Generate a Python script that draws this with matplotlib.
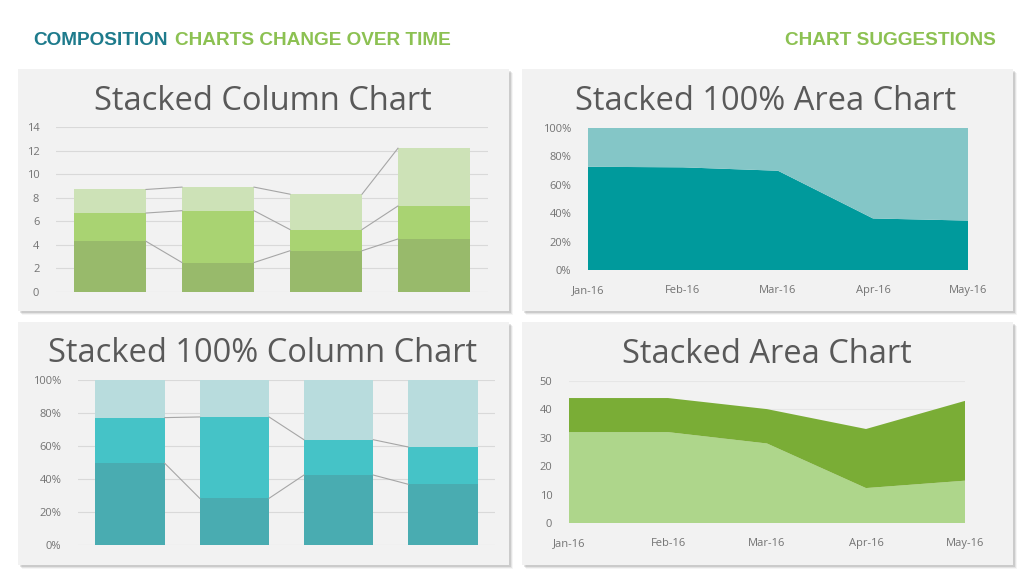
import matplotlib.pyplot as plt
from matplotlib.patches import Rectangle
import numpy as np

# --- data ---
col_cats = ['A', 'B', 'C', 'D']
col_s1 = [4.3, 2.5, 3.5, 4.5]
col_s2 = [2.4, 4.4, 1.8, 2.8]
col_s3 = [2.0, 2.0, 3.0, 4.9]

pct_s1 = [49.5, 28.3, 42.4, 36.8]
pct_s2 = [27.7, 49.3, 21.4, 22.6]
pct_s3 = [22.8, 22.4, 36.2, 40.6]

months = ['Jan-16', 'Feb-16', 'Mar-16', 'Apr-16', 'May-16']
area100_dark = [72.7, 72.3, 69.9, 36.3, 34.8]
area100_light = [27.3, 27.7, 30.1, 63.7, 65.2]

area_light = [32, 32, 28, 12.3, 14.9]
area_dark = [12, 12, 12.1, 20.8, 28.1]

W, H = 1024, 576
fig = plt.figure(figsize=(W / 100, H / 100), dpi=100)
fig.patch.set_facecolor('white')

TXT = '#595959'
TICK = '#737373'
GRID = '#d9d9d9'
FONT = 'Open Sans'


def px_axes(l, t, r, b):
    return fig.add_axes([l / W, 1 - b / H, (r - l) / W, (b - t) / H])


def panel(l, t, r, b):
    # soft shadow
    for i, a in enumerate([0.10, 0.07, 0.04]):
        d = 2 + i
        fig.patches.append(Rectangle(((l + d) / W, 1 - (b + d) / H), (r - l) / W, (b - t) / H,
                                     transform=fig.transFigure, facecolor='black', alpha=a,
                                     edgecolor='none', zorder=-3))
    fig.patches.append(Rectangle((l / W, 1 - b / H), (r - l) / W, (b - t) / H,
                                 transform=fig.transFigure, facecolor='#f2f2f2',
                                 edgecolor='none', zorder=-2))


def title(x, y, s):
    fig.text(x / W, 1 - y / H, s, ha='center', va='baseline', fontsize=23.5,
             color=TXT, family=FONT)


def style(ax):
    ax.set_facecolor('none')
    for sp in ax.spines.values():
        sp.set_visible(False)
    ax.tick_params(axis='both', length=0, labelsize=8, labelcolor=TICK, pad=12)
    for lab in ax.get_xticklabels() + ax.get_yticklabels():
        lab.set_family(FONT)


def series_lines(ax, x, levels, w):
    for lv in levels:
        for i in range(len(x) - 1):
            ax.plot([x[i] + w / 2, x[i + 1] - w / 2], [lv[i], lv[i + 1]],
                    color='#a6a6a6', lw=0.8, zorder=3)


# panels
panel(18, 69, 509, 311)
panel(522, 69, 1013, 311)
panel(18, 322, 509, 565)
panel(522, 322, 1013, 565)

# header
fig.text(33 / W, 1 - 45 / H, 'COMPOSITION', ha='left', va='baseline', fontsize=13.7,
         fontweight='bold', color='#1e7b8c', family='Liberation Sans')
fig.text(175 / W, 1 - 45 / H, 'CHARTS CHANGE OVER TIME', ha='left', va='baseline',
         fontsize=13.7, fontweight='bold', color='#8cc152', family='Liberation Sans')
fig.text(996 / W, 1 - 45 / H, 'CHART SUGGESTIONS', ha='right', va='baseline', fontsize=13.7,
         fontweight='bold', color='#8cc152', family='Liberation Sans')

# --- stacked column ---
title(263, 110, 'Stacked Column Chart')
ax1 = px_axes(56, 127, 488, 292)
x = np.arange(len(col_cats))
w = 0.667
s1 = np.array(col_s1)
s2 = np.array(col_s2)
s3 = np.array(col_s3)
ax1.bar(x, s1, w, color='#98ba6b', zorder=2)
ax1.bar(x, s2, w, bottom=s1, color='#a9d372', zorder=2)
ax1.bar(x, s3, w, bottom=s1 + s2, color='#cde2b7', zorder=2)
series_lines(ax1, x, [s1, s1 + s2, s1 + s2 + s3], w)
ax1.set_xlim(-0.5, 3.5)
ax1.set_ylim(0, 14)
ax1.set_yticks(range(0, 15, 2))
ax1.set_xticks([])
ax1.grid(axis='y', color=GRID, lw=0.8, zorder=0)
ax1.set_axisbelow(True)
style(ax1)

# --- stacked 100% column ---
title(263, 362, 'Stacked 100% Column Chart')
ax3 = px_axes(78, 380, 495, 545)
p1 = np.array(pct_s1)
p2 = np.array(pct_s2)
p3 = np.array(pct_s3)
tot = p1 + p2 + p3
p1, p2, p3 = p1 / tot * 100, p2 / tot * 100, p3 / tot * 100
w3 = 0.665
ax3.bar(x, p1, w3, color='#49acb1', zorder=2)
ax3.bar(x, p2, w3, bottom=p1, color='#45c3c7', zorder=2)
ax3.bar(x, p3, w3, bottom=p1 + p2, color='#b8dcdd', zorder=2)
series_lines(ax3, x, [p1, p1 + p2], w3)
ax3.set_xlim(-0.5, 3.5)
ax3.set_ylim(0, 100)
ax3.set_yticks(range(0, 101, 20))
ax3.set_yticklabels([f'{v}%' for v in range(0, 101, 20)])
ax3.set_xticks([])
ax3.grid(axis='y', color=GRID, lw=0.8, zorder=0)
ax3.set_axisbelow(True)
style(ax3)

# --- stacked 100% area ---
title(766, 110, 'Stacked 100% Area Chart')
ax2 = px_axes(588, 128, 968, 270)
xm = np.arange(len(months))
d = np.array(area100_dark)
lgt = np.array(area100_light)
tot2 = d + lgt
d, lgt = d / tot2 * 100, lgt / tot2 * 100
ax2.stackplot(xm, d, lgt, colors=['#009a9c', '#84c6c7'], zorder=2)
ax2.set_xlim(0, 4)
ax2.set_ylim(0, 100)
ax2.set_yticks(range(0, 101, 20))
ax2.set_yticklabels([f'{v}%' for v in range(0, 101, 20)])
ax2.set_xticks(xm)
ax2.set_xticklabels(months)
style(ax2)
ax2.tick_params(axis='x', pad=11)

# --- stacked area ---
title(767, 363, 'Stacked Area Chart')
ax4 = px_axes(569, 381, 965, 523)
ax4.stackplot(xm, area_light, area_dark, colors=['#aed68b', '#7aad36'], zorder=2)
ax4.set_xlim(0, 4)
ax4.set_ylim(0, 50)
ax4.set_yticks(range(0, 51, 10))
ax4.set_xticks(xm)
ax4.set_xticklabels(months)
ax4.grid(axis='y', color='#e6e6e6', lw=0.8, zorder=0)
ax4.set_axisbelow(True)
style(ax4)
ax4.tick_params(axis='x', pad=11)

fig.savefig('out.png', dpi=100, facecolor='white')
